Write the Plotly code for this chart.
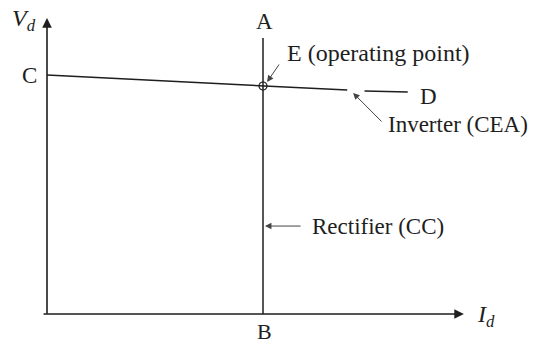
import plotly.graph_objects as go

# Characteristic data (Id in per unit of operating current, Vd in per unit of C)
inv_id = [0.0, 1.0, 1.39, None, 1.47, 1.67]
inv_vd = [1.0, 0.954, 0.937, None, 0.933, 0.929]
rect_id = [1.0, 1.0]
rect_vd = [0.0, 1.155]
op_id = [1.0]
op_vd = [0.954]
x_axis_end = 1.93
y_axis_end = 1.238

INK = "#1e1e1e"
FONT = "Liberation Serif"

fig = go.Figure()
fig.add_trace(go.Scatter(x=inv_id, y=inv_vd, mode="lines",
                         line=dict(color=INK, width=1.5), connectgaps=False,
                         hoverinfo="skip", showlegend=False))
fig.add_trace(go.Scatter(x=rect_id, y=rect_vd, mode="lines",
                         line=dict(color=INK, width=1.5),
                         hoverinfo="skip", showlegend=False))
fig.add_trace(go.Scatter(x=op_id, y=op_vd, mode="markers",
                         marker=dict(symbol="circle-open", size=8,
                                     color=INK, line=dict(width=1.2)),
                         hoverinfo="skip", showlegend=False))

ann = []
# axes arrows
ann.append(dict(x=x_axis_end, y=0, ax=-0.023, ay=0, xref="x", yref="y",
                axref="x", ayref="y", showarrow=True, arrowhead=2,
                arrowsize=1.2, arrowwidth=1.6, arrowcolor=INK, text=""))
ann.append(dict(x=0, y=y_axis_end, ax=0, ay=-0.005, xref="x", yref="y",
                axref="x", ayref="y", showarrow=True, arrowhead=2,
                arrowsize=1.2, arrowwidth=1.6, arrowcolor=INK, text=""))
# pointer arrows
pointers = [
    ((1.417, 0.925), (1.556, 0.799)),
    ((1.019, 0.971), (1.079, 1.050)),
    ((1.009, 0.368), (1.181, 0.368)),
]
for (hx, hy), (tx, ty) in pointers:
    ann.append(dict(x=hx, y=hy, ax=tx, ay=ty, xref="x", yref="y",
                    axref="x", ayref="y", showarrow=True, arrowhead=2,
                    arrowsize=1.3, arrowwidth=1, arrowcolor="#444", text=""))

labels = [
    ("A", 1.009, 1.222, "center", 23),
    ("C", -0.083, 0.996, "center", 23),
    ("B", 1.009, -0.072, "center", 22),
    ("D", 1.718, 0.908, "left", 23),
    ("E (operating point)", 1.102, 1.092, "left", 24),
    ("Inverter (CEA)", 1.569, 0.795, "left", 23),
    ("Rectifier (CC)", 1.218, 0.368, "left", 23),
    ("<i>I<sub>d</sub></i>", 2.032, -0.008, "center", 24),
    ("<i>V<sub>d</sub></i>", -0.106, 1.230, "center", 24),
]
for t, x, y, xa, fs in labels:
    ann.append(dict(x=x, y=y, xref="x", yref="y", text=t, showarrow=False,
                    xanchor=xa, yanchor="middle",
                    font=dict(family=FONT, size=fs, color=INK)))

fig.update_layout(
    width=551, height=343,
    margin=dict(l=0, r=0, t=0, b=0),
    paper_bgcolor="white", plot_bgcolor="white",
    xaxis=dict(range=[-0.2176, 2.3333], visible=False, fixedrange=True),
    yaxis=dict(range=[-0.1213, 1.3138], visible=False, fixedrange=True),
    annotations=ann,
    showlegend=False,
)
fig.write_html("out.html", config={"displayModeBar": False},
               post_script="document.body.style.margin='0';document.body.style.overflow='hidden';")
